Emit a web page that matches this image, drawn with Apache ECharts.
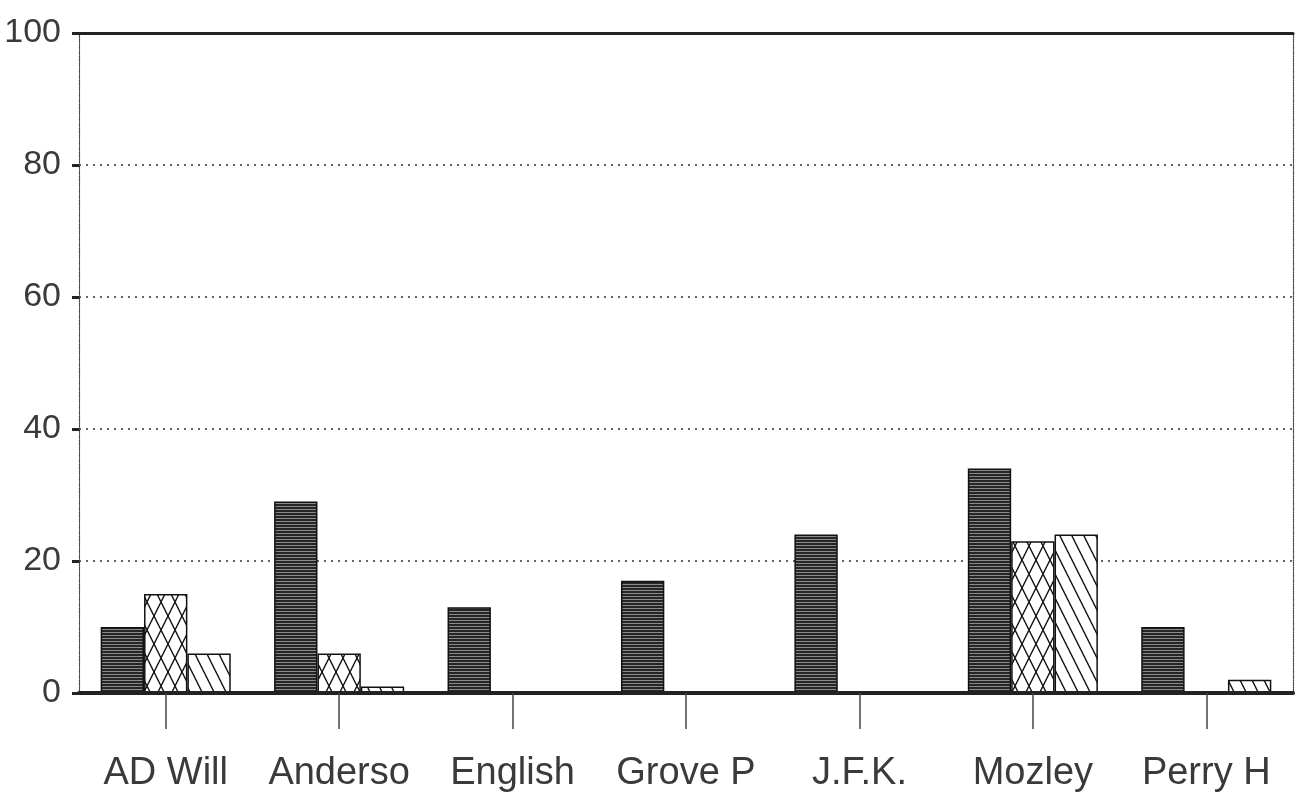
<!DOCTYPE html>
<html>
<head>
<meta charset="utf-8">
<title>Schools bar chart</title>
<script src="https://cdn.jsdelivr.net/npm/echarts@6/dist/echarts.min.js"></script>
<style>
  html, body { margin: 0; padding: 0; background: #fff; }
  #chart { width: 1303px; height: 803px; }
</style>
</head>
<body>
<div id="chart"></div>
<script>
// data
var schools = ['AD Will', 'Anderso', 'English', 'Grove P', 'J.F.K.', 'Mozley', 'Perry H'];
var solidVals = [10, 29, 13, 17, 24, 34, 10];
var crossVals = [15, 6, 0, 0, 0, 23, 0];
var diagVals = [6, 1, 0, 0, 0, 24, 2];
var yTicks = [0, 20, 40, 60, 80, 100];

var FONT = "'Liberation Sans', 'DejaVu Sans', sans-serif";

// fill patterns, drawn on small canvases
function makeTile(w, h, draw) {
    var c = document.createElement('canvas');
    c.width = w; c.height = h;
    var ctx = c.getContext('2d');
    draw(ctx, w, h);
    return c;
}
var darkTile = makeTile(6, 3, function(ctx, w, h) {
    ctx.fillStyle = '#262626';
    ctx.fillRect(0, 0, w, h);
    ctx.fillStyle = '#8a8a8a';
    ctx.fillRect(0, 2, w, 1);
});
var crossTile = makeTile(14, 28, function(ctx, w, h) {
    ctx.fillStyle = '#fff';
    ctx.fillRect(0, 0, w, h);
    ctx.strokeStyle = '#111';
    ctx.lineWidth = 1.4;
    ctx.beginPath();
    ctx.moveTo(0, 0); ctx.lineTo(w, h);
    ctx.moveTo(w, 0); ctx.lineTo(0, h);
    ctx.stroke();
});
var diagTile = makeTile(12, 24, function(ctx, w, h) {
    ctx.fillStyle = '#fff';
    ctx.fillRect(0, 0, w, h);
    ctx.strokeStyle = '#111';
    ctx.lineWidth = 1.4;
    ctx.beginPath();
    ctx.moveTo(-1, -2); ctx.lineTo(w + 1, h + 2);
    ctx.moveTo(-w - 1, -2); ctx.lineTo(1, h + 2);
    ctx.moveTo(w - 1, -2); ctx.lineTo(2 * w + 1, h + 2);
    ctx.stroke();
});

function barSeries(name, vals, tile) {
    return {
        name: name,
        type: 'bar',
        data: vals,
        barGap: '0%',
        barCategoryGap: '25%',
        itemStyle: {
            color: { image: tile, repeat: 'repeat' },
            borderColor: '#111',
            borderWidth: 1.5
        },
        emphasis: { disabled: true }
    };
}

var myChart = echarts.init(document.getElementById('chart'));
var option = {
    animation: false,
    backgroundColor: '#fff',
    grid: { left: 79, right: 10, top: 33, bottom: 110, containLabel: false, outerBoundsMode: 'none' },
    xAxis: [
        {
            type: 'category',
            data: schools,
            position: 'bottom',
            z: 5,
            axisLine: { onZero: false, lineStyle: { color: '#222', width: 4 } },
            axisTick: { show: true, inside: false, alignWithLabel: true, length: 36, lineStyle: { color: '#444', width: 1.5 } },
            axisLabel: {
                interval: 0,
                margin: 62,
                fontFamily: FONT,
                fontSize: 38,
                color: '#3a3a3a'
            },
            splitLine: { show: false }
        },
        {
            type: 'category',
            data: schools,
            position: 'top',
            z: 5,
            axisLine: { onZero: false, lineStyle: { color: '#222', width: 3 } },
            axisTick: { show: false },
            axisLabel: { show: false }
        }
    ],
    yAxis: [
        {
            type: 'value',
            min: yTicks[0],
            max: yTicks[yTicks.length - 1],
            interval: 20,
            axisLine: { show: true, lineStyle: { color: '#444', width: 1.2, type: 'dotted' } },
            axisTick: { show: true, length: 7, lineStyle: { color: '#222', width: 3 } },
            axisLabel: {
                margin: 18,
                fontFamily: FONT,
                fontSize: 34,
                color: '#3a3a3a'
            },
            splitLine: { show: true, lineStyle: { color: '#333', width: 1.5, type: [2, 5] } }
        },
        {
            type: 'value',
            min: 0,
            max: 100,
            interval: 20,
            position: 'right',
            axisLine: { show: true, onZero: false, lineStyle: { color: '#444', width: 1.2, type: 'dotted' } },
            axisTick: { show: false },
            axisLabel: { show: false },
            splitLine: { show: false }
        }
    ],
    series: [
        barSeries('series 1', solidVals, darkTile),
        barSeries('series 2', crossVals, crossTile),
        barSeries('series 3', diagVals, diagTile)
    ]
};
myChart.setOption(option);
window.addEventListener('resize', function() {
    myChart.resize();
});
</script>
</body>
</html>
